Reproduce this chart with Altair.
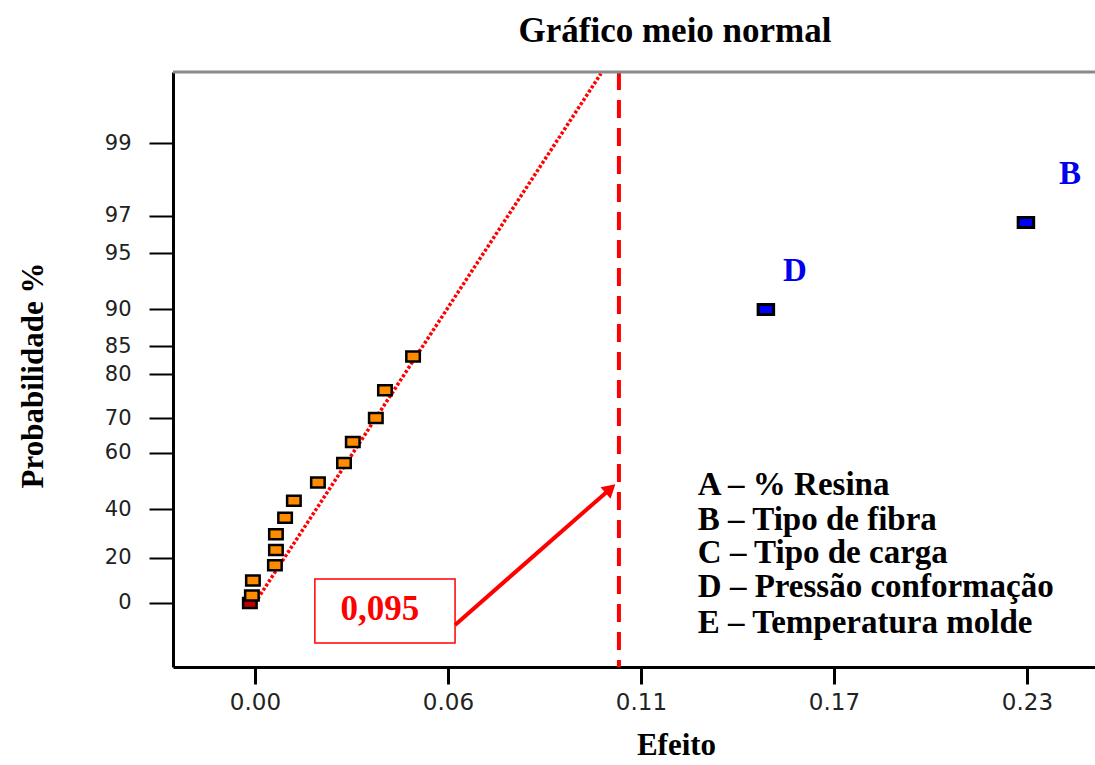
import altair as alt
import pandas as pd
from statistics import NormalDist

_nd = NormalDist()


def half_normal_score(p):
    """Half-normal score (z) of a cumulative probability given in %."""
    return _nd.inv_cdf(0.5 + p / 200.0)


# ---------------- data ----------------
# small (non significant) effects, orange squares
effect_small = [-0.0009, -0.0006, 0.0059, 0.0062, 0.0062, 0.0089, 0.0115,
                0.0186, 0.0263, 0.0289, 0.0357, 0.0384, 0.0467]
prob_small = [3.3, 10.0, 16.7, 23.3, 30.0, 36.7, 43.3,
              50.0, 56.7, 63.3, 70.0, 76.7, 83.3]

# significant effects, blue squares
sig_names = ["D", "B"]
effect_sig = [0.1509, 0.2277]
prob_sig = [90.0, 96.7]

# marker at the origin of the fitted line
origin_effect = [-0.0015]
origin_prob = [0.0]

# fitted half-normal line (through the origin)
fit_effect = [0.0, 0.1022]
fit_prob = [0.0, 99.7]

# critical effect (dashed vertical line)
threshold_effect = [0.1075]

# axes
x_tick_values = [0.0, 0.057, 0.114, 0.171, 0.228]
x_domain = [-0.0242, 0.2481]
y_tick_probs = [0, 20, 40, 60, 70, 80, 85, 90, 95, 97, 99]
y_domain_score = [-0.359, 2.976]

# annotations (positions in effect / half-normal score units)
sig_label_effect = [0.1595, 0.2407]
sig_label_score = [1.861, 2.405]

legend_lines = ["A – % Resina", "B – Tipo de fibra", "C – Tipo de carga",
                "D – Pressão conformação", "E – Temperatura molde"]
legend_effect = [0.1308] * 5
legend_score = [0.6054, 0.4092, 0.2242, 0.0336, -0.1682]

box_text = "0,095"
box_effect = [0.0177, 0.0591]
box_score = [0.1345, -0.2242]
box_text_pos = [0.0369, -0.0953]

arrow_start = [0.0591, -0.1233]
arrow_head = [0.1050, 0.6407]
arrow_angle = 48.8

title_text = "Gráfico meio normal"
x_title = "Efeito"
y_title = "Probabilidade %"

# ---------------- tables ----------------
small_df = pd.DataFrame({"effect": effect_small,
                         "score": [half_normal_score(p) for p in prob_small]})
sig_df = pd.DataFrame({"name": sig_names, "effect": effect_sig,
                       "score": [half_normal_score(p) for p in prob_sig]})
origin_df = pd.DataFrame({"effect": origin_effect,
                          "score": [half_normal_score(p) for p in origin_prob]})
fit_df = pd.DataFrame({"effect": fit_effect,
                       "score": [half_normal_score(p) for p in fit_prob]})
thr_df = pd.DataFrame({"effect": threshold_effect})
siglab_df = pd.DataFrame({"name": sig_names, "effect": sig_label_effect,
                          "score": sig_label_score})
legend_df = pd.DataFrame({"txt": legend_lines, "effect": legend_effect,
                          "score": legend_score})
box_df = pd.DataFrame({"effect": [box_effect[0]], "effect2": [box_effect[1]],
                       "score": [box_score[0]], "score2": [box_score[1]]})
boxtxt_df = pd.DataFrame({"txt": [box_text], "effect": [box_text_pos[0]],
                          "score": [box_text_pos[1]]})
arrow_df = pd.DataFrame({"effect": [arrow_start[0]], "effect2": [arrow_head[0]],
                         "score": [arrow_start[1]], "score2": [arrow_head[1]]})
head_df = pd.DataFrame({"effect": [arrow_head[0]], "score": [arrow_head[1]]})
title_df = pd.DataFrame({"txt": [title_text]})

y_tick_scores = [half_normal_score(p) for p in y_tick_probs]
label_map = ", ".join(f"'{z:.4f}': '{p}'" for z, p in zip(y_tick_scores, y_tick_probs))
y_label_expr = "{" + label_map + "}[format(datum.value, '.4f')]"

W, H = 922, 595

xscale = alt.Scale(domain=x_domain, nice=False, zero=False)
yscale = alt.Scale(domain=y_domain_score, nice=False, zero=False)

x_axis = alt.Axis(values=x_tick_values, format=".2f", grid=False,
                  domainColor="black", domainWidth=3,
                  tickColor="black", tickWidth=3, tickSize=17,
                  labelFont="DejaVu Sans", labelFontSize=23, labelColor="#222",
                  labelPadding=7, labelFlush=False,
                  titleFont="Liberation Serif", titleFontSize=31,
                  titleFontWeight="bold", titleColor="black",
                  titleX=503, titleY=87, titleAlign="center",
                  titleBaseline="alphabetic")
y_axis = alt.Axis(values=y_tick_scores, labelExpr=y_label_expr, grid=False,
                  domainColor="black", domainWidth=3,
                  tickColor="black", tickWidth=2, tickSize=24,
                  labelFont="DejaVu Sans", labelFontSize=21, labelColor="#222",
                  labelPadding=18, labelFlush=False,
                  titleFont="Liberation Serif", titleFontSize=31,
                  titleFontWeight="bold", titleColor="black",
                  titleX=-131, titleY=303, titleAlign="center",
                  titleBaseline="alphabetic", titleAngle=270)

X = alt.X("effect:Q", scale=xscale, axis=x_axis, title=x_title)
Y = alt.Y("score:Q", scale=yscale, axis=y_axis, title=y_title)

rect_small = "M-1.35,-1H1.35V1H-1.35Z"
rect_big = "M-1.55,-1H1.55V1H-1.55Z"

fit_line = alt.Chart(fit_df).mark_line(color="red", strokeWidth=3.5,
                                       strokeDash=[3, 2], clip=True).encode(x=X, y=Y)

thr_line = alt.Chart(thr_df).mark_rule(color="red", strokeWidth=4,
                                       strokeDash=[18, 10]).encode(x=X)

top_border = alt.Chart(title_df).mark_rule(color="#8a8a8a", strokeWidth=3).encode(
    x=alt.value(0), x2=alt.value(W), y=alt.value(0))

origin_pts = alt.Chart(origin_df).mark_point(shape=rect_small, size=100, filled=True,
                                             fill="#c00000", stroke="black",
                                             strokeWidth=2.5, opacity=1).encode(x=X, y=Y)

small_pts = alt.Chart(small_df).mark_point(shape=rect_small, size=100, filled=True,
                                           fill="#ff8c00", stroke="black",
                                           strokeWidth=2.5, opacity=1).encode(x=X, y=Y)

sig_pts = alt.Chart(sig_df).mark_point(shape=rect_big, size=100, filled=True,
                                       fill="#0000ff", stroke="black",
                                       strokeWidth=3, opacity=1).encode(x=X, y=Y)

sig_text = alt.Chart(siglab_df).mark_text(font="Liberation Serif", fontWeight="bold",
                                          fontSize=33, color="#0000ee",
                                          align="center", baseline="middle").encode(
    x=X, y=Y, text="name:N")

legend_text = alt.Chart(legend_df).mark_text(font="Liberation Serif", fontWeight="bold",
                                             fontSize=33, color="black",
                                             align="left", baseline="alphabetic").encode(
    x=X, y=Y, text="txt:N")

box = alt.Chart(box_df).mark_rect(fill="white", stroke="red", strokeWidth=1.5).encode(
    x=X, x2="effect2:Q", y=Y, y2="score2:Q")

box_txt = alt.Chart(boxtxt_df).mark_text(font="Liberation Serif", fontWeight="bold",
                                         fontSize=35, color="red",
                                         align="center", baseline="alphabetic").encode(
    x=X, y=Y, text="txt:N")

arrow = alt.Chart(arrow_df).mark_rule(color="red", strokeWidth=4).encode(
    x=X, x2="effect2:Q", y=Y, y2="score2:Q")

head = alt.Chart(head_df).mark_point(shape="triangle-up", size=230, filled=True,
                                     color="red", opacity=1, angle=arrow_angle).encode(
    x=X, y=Y)

title = alt.Chart(title_df).mark_text(font="Liberation Serif", fontWeight="bold",
                                      fontSize=35, color="black",
                                      align="center", baseline="alphabetic").encode(
    x=alt.value(502), y=alt.value(-30), text="txt:N")

chart = alt.layer(
    fit_line, thr_line, top_border, origin_pts, small_pts, sig_pts, sig_text,
    legend_text, box, box_txt, arrow, head, title
).properties(
    width=W, height=H,
    autosize=alt.AutoSizeParams(type="none"),
    padding={"left": 173, "top": 72, "right": 0, "bottom": 98},
    background="white",
).configure_view(stroke=None)

chart.save("out.html", embed_options={"renderer": "svg", "actions": False})
